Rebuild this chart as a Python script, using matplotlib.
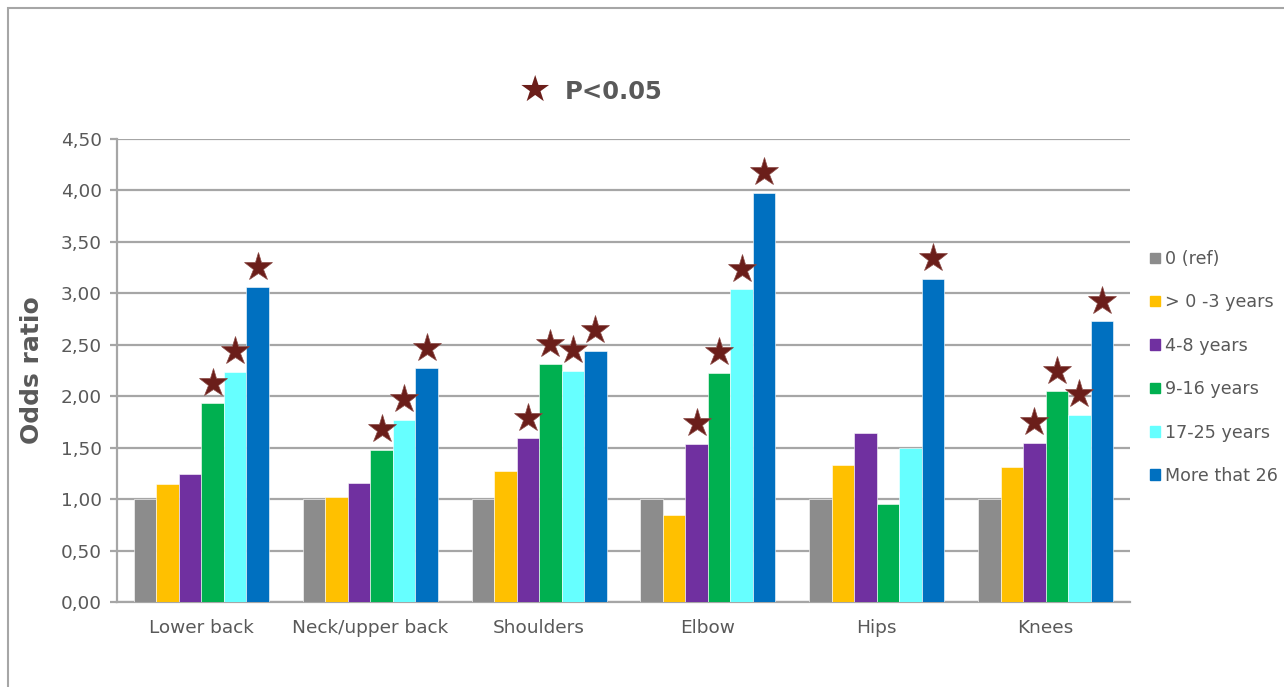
import matplotlib.pyplot as plt
import matplotlib.patches as mpatches
from matplotlib.ticker import FuncFormatter, MultipleLocator
import numpy as np

categories = ["Lower back", "Neck/upper back", "Shoulders", "Elbow", "Hips", "Knees"]
series = ["0 (ref)", "> 0 -3 years", "4-8 years", "9-16 years", "17-25 years", "More that 26"]
colors = ["#8c8c8c", "#ffc000", "#7030a0", "#00b050", "#66ffff", "#0070c0"]

ref_0 = [1.00, 1.00, 1.00, 1.00, 1.00, 1.00]
yrs_0_3 = [1.15, 1.02, 1.27, 0.85, 1.33, 1.31]
yrs_4_8 = [1.24, 1.16, 1.59, 1.54, 1.64, 1.55]
yrs_9_16 = [1.93, 1.48, 2.31, 2.23, 0.95, 2.05]
yrs_17_25 = [2.24, 1.77, 2.25, 3.04, 1.50, 1.82]
yrs_26_plus = [3.06, 2.27, 2.44, 3.98, 3.14, 2.73]

# p<0.05 flags, same order as the series
sig_0 = [0, 0, 0, 0, 0, 0]
sig_0_3 = [0, 0, 0, 0, 0, 0]
sig_4_8 = [0, 0, 1, 1, 0, 1]
sig_9_16 = [1, 1, 1, 1, 0, 1]
sig_17_25 = [1, 1, 1, 1, 0, 1]
sig_26_plus = [1, 1, 1, 1, 1, 1]

values = [ref_0, yrs_0_3, yrs_4_8, yrs_9_16, yrs_17_25, yrs_26_plus]
flags = [sig_0, sig_0_3, sig_4_8, sig_9_16, sig_17_25, sig_26_plus]

text_color = "#595959"
grid_color = "#a6a6a6"
star_color = "#6b1e1a"

W, H = 1284, 687
fig = plt.figure(figsize=(W / 100, H / 100), dpi=100)
ax = fig.add_axes([117 / W, 1 - 602 / H, (1130 - 117) / W, (602 - 139) / H])

x = np.arange(len(categories))
bw = 0.8 / len(series)
for i, (name, vals, sig) in enumerate(zip(series, values, flags)):
    pos = x + (i - (len(series) - 1) / 2) * bw
    ax.bar(pos, vals, width=bw, color=colors[i], label=name, zorder=3,
           edgecolor="white", linewidth=0.4)
    for p, v, s in zip(pos, vals, sig):
        if s:
            ax.plot(p, v + 0.2, marker="*", markersize=21, color=star_color,
                    markeredgecolor="#8a4a45", markeredgewidth=0.5,
                    zorder=4, clip_on=False)

ax.set_xlim(-0.5, len(categories) - 0.5)
ax.set_ylim(0, 4.5)
ax.yaxis.set_major_locator(MultipleLocator(0.5))
ax.yaxis.set_major_formatter(FuncFormatter(lambda v, _: f"{v:.2f}".replace(".", ",")))
ax.grid(axis="y", color=grid_color, linewidth=1.6, zorder=0)
for side in ["top", "right"]:
    ax.spines[side].set_visible(False)
for side in ["bottom", "left"]:
    ax.spines[side].set_color(grid_color)
    ax.spines[side].set_linewidth(1.6)
ax.tick_params(axis="both", colors=text_color, labelsize=13.3)
ax.tick_params(axis="x", length=0, pad=12)
ax.tick_params(axis="y", length=5, width=1.6, color=grid_color, pad=6)
ax.set_xticks(x)
ax.set_xticklabels(categories)
ax.set_ylabel("Odds ratio", fontsize=18, fontweight="bold", color=text_color, labelpad=12)

# significance key above the plot
fig.text(535 / W, 1 - 91 / H, "\u2605", fontsize=26, color=star_color,
         ha="center", va="center", family="DejaVu Sans")
fig.text(565 / W, 1 - 92 / H, "P<0.05", fontsize=17.5, fontweight="bold",
         color=text_color, ha="left", va="center")

handles = [mpatches.Patch(color=c) for c in colors]
leg = fig.legend(handles, series, loc="upper left", bbox_to_anchor=(1143 / W, 1 - 243 / H),
                 frameon=False, fontsize=12.6, handlelength=0.55, handleheight=0.55,
                 handletextpad=0.3, labelspacing=1.45, borderaxespad=0)
for t in leg.get_texts():
    t.set_color(text_color)

# outer chart border
fig.patches.append(mpatches.Rectangle((8 / W, -0.1), 2, 1.1 - 8 / H, transform=fig.transFigure,
                                      fill=False, edgecolor=grid_color, linewidth=1.5))

fig.savefig("out.png", dpi=100)
